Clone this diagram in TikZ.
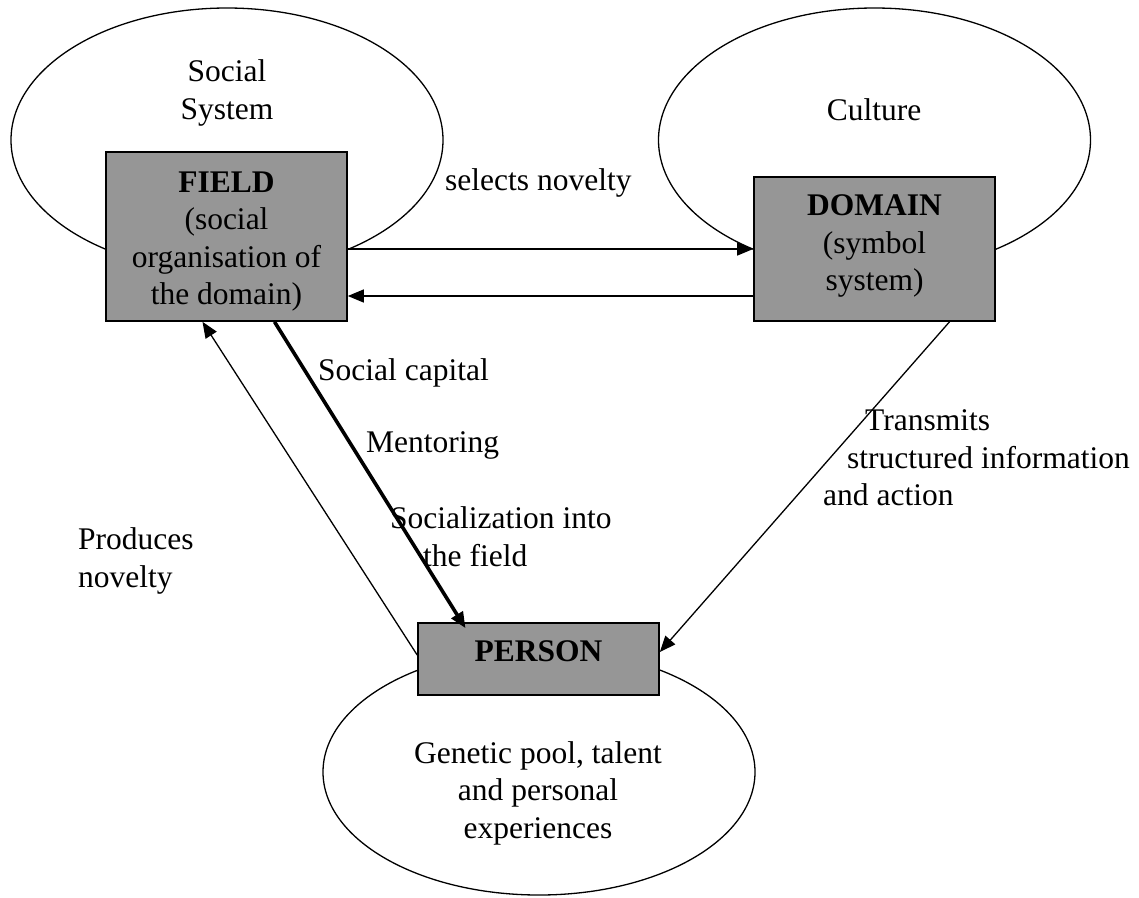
\documentclass[tikz,border=0pt]{standalone}
\usepackage{fontspec}
\setmainfont{Liberation Serif}
\usepackage{xcolor}
\usepackage{tikz}
\usetikzlibrary{arrows.meta,shapes.geometric,positioning}
\definecolor{BoxGray}{HTML}{969696}

\begin{document}
\begin{tikzpicture}[x=1pt, y=-1pt, >={Triangle[length=16pt,width=13pt]},
    every node/.style={font=\fontsize{31.5}{37.5}\selectfont},
    sphere/.style={draw, line width=1.3pt, ellipse, inner sep=0pt,
      minimum width=432pt, minimum height=264pt},
    agent/.style={draw, line width=1.6pt, fill=BoxGray, align=center,
      inner sep=0pt, minimum width=241pt},
    tag/.style={align=left, inner sep=0pt, anchor=west},
    link/.style={->, line width=1.3pt}]
  \useasboundingbox (0,0) rectangle (1139,897);
  % the three surrounding systems
  \node[sphere] (social) at (227,140) {};
  \node[sphere] (culture) at (874.5,140) {};
  \node[sphere, minimum height=246pt] (gene) at (539,772) {};
  \node[align=center, inner sep=0pt] (socialtxt) at (227,93) {Social\\System};
  \node[inner sep=0pt] (culturetxt) at (874,110) {Culture};
  \node[align=center, inner sep=0pt] (genetxt) at (538,793) {Genetic pool, talent\\and personal\\experiences};
  % the three agents
  \node[agent, minimum height=169pt] (field) at (226.5,236.5) {\rule{0pt}{31pt}\textbf{FIELD}\\(social\\organisation of\\the domain)};
  \node[agent, minimum height=144pt] (domain) at (874.5,249) {\textbf{DOMAIN}\\(symbol\\system)\rule[-12pt]{0pt}{0pt}};
  \node[agent, minimum height=72pt] (person) at (538.5,659) {\textbf{PERSON}\rule[-16pt]{0pt}{0pt}};
  % links
  \draw[link] (field.east |- domain.west) -- (domain.west);
  \draw[link] ([yshift=-47pt]domain.west) -- ([yshift=-59.5pt]field.east);
  \draw[link] ([yshift=4pt]person.west) -- ([xshift=-24pt]field.south);
  \draw[->, line width=3.6pt] ([xshift=48pt]field.south) -- ([xshift=-73pt,yshift=-6pt]person.north);
  \draw[link] ([xshift=75pt]domain.south) -- ([yshift=7pt]person.east);
  % labels
  \node[tag] (selects) at (445,183) {selects novelty};
  \node[tag] (capital) at (318,373) {Social capital};
  \node[tag] (mentor) at (366,445) {Mentoring};
  \node[tag] (socialize) at (390,536.5) {Socialization into\\\hspace*{33pt}the field};
  \node[tag] (transmit) at (823,458) {\hspace*{42pt}Transmits\\\hspace*{24pt}structured information\\and action};
  \node[tag] (produce) at (78,561) {Produces\\novelty};
\end{tikzpicture}
\end{document}
